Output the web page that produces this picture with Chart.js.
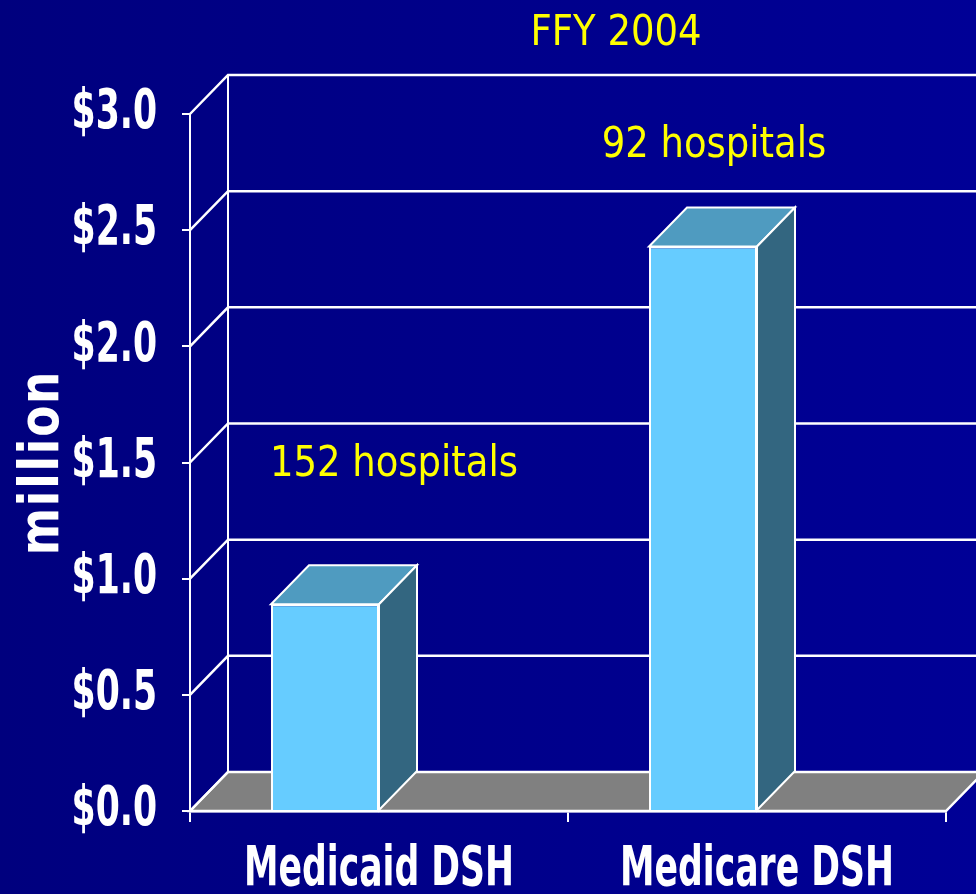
<!DOCTYPE html>
<html>
<head>
<meta charset="utf-8">
<script src="https://cdn.jsdelivr.net/npm/chart.js@4.4.1/dist/chart.umd.min.js"></script>
<style>
  html, body { margin: 0; padding: 0; background: #000088; }
  canvas { display: block; }
</style>
</head>
<body>
<canvas id="c" width="976" height="894" style="width:976px;height:894px"></canvas>
<script>
// ---- data ----
const categories = ['Medicaid DSH', 'Medicare DSH'];
const dshPayments = [0.89, 2.43];            // $ million
const depthSlot = [null, null];              // empty companion slot (3D layout spacing)
const hospitalLabels = ['152 hospitals', '92 hospitals'];
const yTickValues = [0, 0.5, 1.0, 1.5, 2.0, 2.5, 3.0];
const chartTitle = 'FFY 2004';
const yAxisTitle = 'million';

// ---- style ----
// "Tahoma" / "Verdana" are not installed: they only mark the fonts that get squeezed
const TICK_FONT = "Tahoma, 'DejaVu Sans Condensed', 'DejaVu Sans', sans-serif";
const YTITLE_FONT = "Verdana, 'DejaVu Sans Condensed', 'DejaVu Sans', sans-serif";
const TEXT_FONT = "'DejaVu Sans', sans-serif";
const DX = 38, DY = -39;   // 3D depth offset

const condensedText = {
  id: 'condensedText',
  beforeDraw(chart) {
    const ctx = chart.ctx;
    if (ctx.__squeezed) return;
    const orig = ctx.fillText;
    ctx.fillText = function (text, x, y, maxWidth) {
      const f = this.font;
      let k = 1, spacing = null;
      if (f.includes('Tahoma')) k = 0.70;
      else if (f.includes('Verdana')) { k = 0.90; spacing = '2px'; }
      if (k < 1) {
        const prev = this.letterSpacing;
        if (spacing !== null && prev !== undefined) this.letterSpacing = spacing;
        let w = this.measureText(text).width * k;
        if (maxWidth !== undefined && maxWidth !== null) w = Math.min(w, maxWidth);
        const res = orig.call(this, text, x, y, w);
        if (spacing !== null && prev !== undefined) this.letterSpacing = prev;
        return res;
      }
      return maxWidth === undefined ? orig.call(this, text, x, y) : orig.call(this, text, x, y, maxWidth);
    };
    ctx.__squeezed = true;
  }
};

const background = {
  id: 'background',
  beforeDraw(chart) {
    const { ctx, width, height } = chart;
    const g = ctx.createLinearGradient(0, 0, width, 0);
    g.addColorStop(0, '#00007e');
    g.addColorStop(1, '#000096');
    ctx.save();
    ctx.fillStyle = g;
    ctx.fillRect(0, 0, width, height);
    ctx.restore();
  }
};

const backWall = {
  id: 'backWall',
  beforeDatasetsDraw(chart) {
    const { ctx, chartArea: a, scales: { y }, width } = chart;
    ctx.save();
    // floor
    ctx.beginPath();
    ctx.moveTo(a.left, a.bottom);
    ctx.lineTo(a.left + DX, a.bottom + DY);
    ctx.lineTo(a.right + DX, a.bottom + DY);
    ctx.lineTo(a.right, a.bottom);
    ctx.closePath();
    ctx.fillStyle = '#808080';
    ctx.fill();
    ctx.strokeStyle = '#ffffff';
    ctx.lineWidth = 2.5;
    ctx.lineJoin = 'miter';
    ctx.stroke();
    // gridlines on the back wall + side-wall diagonals
    y.ticks.forEach(t => {
      const py = y.getPixelForValue(t.value);
      ctx.beginPath();
      ctx.moveTo(a.left, py);
      ctx.lineTo(a.left + DX, py + DY);
      if (t.value !== 0) ctx.lineTo(width + 10, py + DY);
      ctx.stroke();
    });
    // back vertical edge
    ctx.lineWidth = 2;
    ctx.beginPath();
    ctx.moveTo(a.left + DX, y.getPixelForValue(y.max) + DY);
    ctx.lineTo(a.left + DX, a.bottom + DY);
    ctx.stroke();
    ctx.restore();
  }
};

const barDepth = {
  id: 'barDepth',
  afterDatasetsDraw(chart) {
    const { ctx } = chart;
    const meta = chart.getDatasetMeta(0);
    ctx.save();
    ctx.strokeStyle = '#ffffff';
    ctx.lineWidth = 2;
    ctx.lineJoin = 'miter';
    meta.data.forEach(bar => {
      const { x, y, base, width } = bar.getProps(['x', 'y', 'base', 'width'], true);
      const l = x - width / 2, r = x + width / 2;
      // top face
      ctx.beginPath();
      ctx.moveTo(l, y);
      ctx.lineTo(l + DX, y + DY);
      ctx.lineTo(r + DX, y + DY);
      ctx.lineTo(r, y);
      ctx.closePath();
      ctx.fillStyle = '#4f9bc0';
      ctx.fill();
      ctx.stroke();
      // side face
      ctx.beginPath();
      ctx.moveTo(r, y);
      ctx.lineTo(r + DX, y + DY);
      ctx.lineTo(r + DX, base + DY);
      ctx.lineTo(r, base);
      ctx.closePath();
      ctx.fillStyle = '#336680';
      ctx.fill();
      ctx.stroke();
    });
    ctx.restore();
  }
};

const annotations = {
  id: 'annotations',
  afterDraw(chart) {
    const { ctx, scales: { x, y } } = chart;
    ctx.save();
    ctx.fillStyle = '#ffff00';
    ctx.font = `43px ${TEXT_FONT}`;
    ctx.textAlign = 'center';
    ctx.textBaseline = 'alphabetic';
    const put = (txt, px, py) => ctx.fillText(txt, px, py, ctx.measureText(txt).width * 0.86);
    put(chartTitle, x.getPixelForValue(0.5) + 48, y.getPixelForValue(3.0) - 69);
    put(hospitalLabels[0], x.getPixelForValue(0) + 15, y.getPixelForValue(1.44));
    put(hospitalLabels[1], x.getPixelForValue(1) - 43, y.getPixelForValue(2.815));
    ctx.restore();
  }
};

new Chart(document.getElementById('c'), {
  type: 'bar',
  data: {
    labels: categories,
    datasets: [
      {
        label: 'DSH payments ($ million)',
        data: dshPayments,
        backgroundColor: '#66ccff',
        borderColor: '#ffffff',
        borderWidth: 2,
        categoryPercentage: 0.5714,
        barPercentage: 1.0
      },
      {
        label: '',
        data: depthSlot,
        categoryPercentage: 0.5714,
        barPercentage: 1.0
      }
    ]
  },
  options: {
    responsive: false,
    devicePixelRatio: 1,
    animation: false,
    layout: { padding: { left: 0, top: 114, right: 30, bottom: 0 } },
    plugins: {
      legend: { display: false },
      title: { display: false },
      tooltip: { enabled: false }
    },
    scales: {
      x: {
        grid: { offset: true, drawOnChartArea: false, drawTicks: true, tickLength: 11, color: '#ffffff', lineWidth: 2 },
        border: { display: true, color: '#ffffff', width: 2.5 },
        ticks: {
          color: '#ffffff', padding: 16, maxRotation: 0, minRotation: 0, autoSkip: false,
          font: { family: TICK_FONT, weight: 'bold', size: 55 }
        },
        afterFit: s => { s.height = 83; s.paddingLeft = 0; s.paddingRight = 0; }
      },
      y: {
        min: 0,
        max: 3,
        afterBuildTicks: s => { s.ticks = yTickValues.map(v => ({ value: v })); },
        ticks: {
          color: '#ffffff',
          padding: 25,
          font: { family: TICK_FONT, weight: 'bold', size: 55 },
          callback: v => '$' + Number(v).toFixed(1)
        },
        grid: { drawOnChartArea: false, drawTicks: true, tickLength: 8, color: '#ffffff', lineWidth: 2 },
        border: { display: true, color: '#ffffff', width: 2 },
        title: {
          display: true,
          text: yAxisTitle,
          color: '#ffffff',
          font: { family: YTITLE_FONT, weight: 'bold', size: 56 },
          padding: { top: 10, bottom: 0 }
        },
        afterFit: s => { s.width = 190; s.paddingTop = 0; s.paddingBottom = 0; }
      }
    }
  },
  plugins: [condensedText, background, backWall, barDepth, annotations]
});
</script>
</body>
</html>
